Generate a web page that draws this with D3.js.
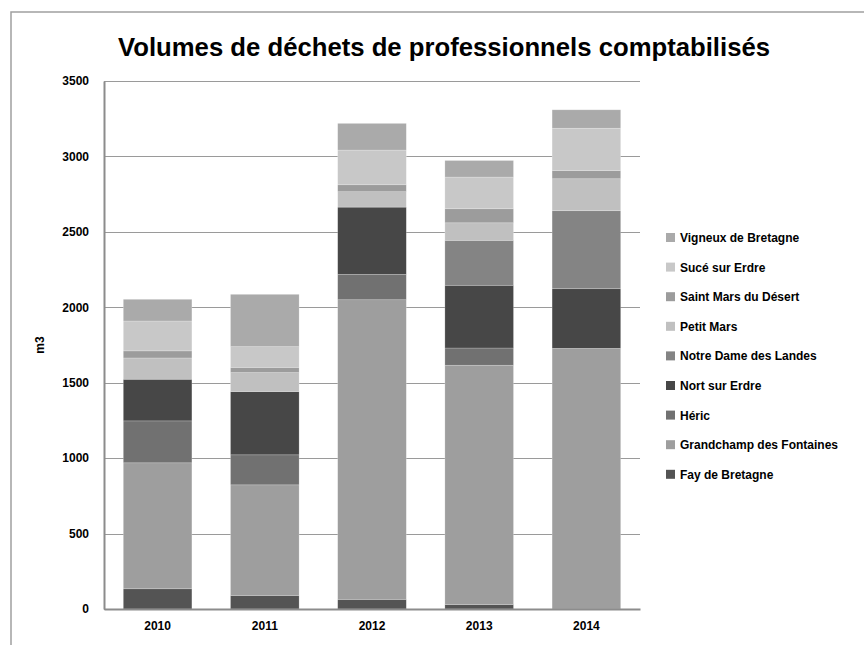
<!DOCTYPE html>
<html>
<head>
<meta charset="utf-8">
<script src="https://cdn.jsdelivr.net/npm/d3@7"></script>
<style>
  body { margin: 0; background: #fff; }
  svg text { font-family: "Liberation Sans", Arial, sans-serif; fill: #000; }
</style>
</head>
<body>
<svg id="chart"></svg>
<script>
// years on the x axis
const years = ['2010', '2011', '2012', '2013', '2014'];

// communes, bottom of the stack first
const communes = [
  'Fay de Bretagne', 'Grandchamp des Fontaines', 'Héric', 'Nort sur Erdre',
  'Notre Dame des Landes', 'Petit Mars', 'Saint Mars du Désert', 'Sucé sur Erdre',
  'Vigneux de Bretagne'
];

// volumes (m3) per commune, one value per year
const fay        = [134, 90, 64, 30, 0];
const grandchamp = [835, 733, 1986, 1586, 1728];
const heric      = [278, 199, 168, 114, 0];
const nort       = [276, 419, 446, 416, 395];
const notreDame  = [0, 0, 0, 298, 517];
const petitMars  = [141, 126, 102, 116, 212];
const saintMars  = [47, 35, 46, 93, 55];
const suce       = [198, 137, 230, 210, 280];
const vigneux    = [144, 347, 177, 110, 122];

const yTicks = [0, 500, 1000, 1500, 2000, 2500, 3000, 3500];

const greys = ['#545454', '#9e9e9e', '#717171', '#474747', '#848484',
               '#c0c0c0', '#9c9c9c', '#c8c8c8', '#aaaaaa'];

const seriesValues = [fay, grandchamp, heric, nort, notreDame, petitMars, saintMars, suce, vigneux];
const table = years.map((y, i) => {
  const row = {year: y};
  communes.forEach((c, j) => row[c] = seriesValues[j][i]);
  return row;
});

const width = 864, height = 645;
const margin = {top: 81, left: 104, right: 224, bottom: 36};

const svg = d3.select('#chart')
    .attr('width', width)
    .attr('height', height);

// outer frame (only top and left are visible in the picture)
svg.append('path')
    .attr('d', `M11,${height} V12 H${width}`)
    .attr('fill', 'none')
    .attr('stroke', '#a0a0a0')
    .attr('stroke-width', 1.5);

const innerW = width - margin.left - margin.right;
const innerH = height - margin.top - margin.bottom;

const chart = svg.append('g')
    .attr('transform', `translate(${margin.left},${margin.top})`);

const xScale = d3.scaleBand()
    .domain(years)
    .range([0, innerW])
    .paddingInner(0.36)
    .paddingOuter(0.18);

const yScale = d3.scaleLinear()
    .domain([0, 3500])
    .range([innerH, 0]);

// gridlines
chart.append('g')
  .selectAll('line')
  .data(yTicks)
  .join('line')
    .attr('x1', 0)
    .attr('x2', innerW)
    .attr('y1', d => Math.round(yScale(d)) + 0.5)
    .attr('y2', d => Math.round(yScale(d)) + 0.5)
    .attr('stroke', '#9a9a9a')
    .attr('stroke-width', 1.2);

const stack = d3.stack().keys(communes);
const layers = stack(table);

chart.append('g')
  .selectAll('g')
  .data(layers)
  .join('g')
    .attr('fill', (d, i) => greys[i])
  .selectAll('rect')
  .data(d => d)
  .join('rect')
    .attr('x', d => xScale(d.data.year))
    .attr('width', xScale.bandwidth())
    .attr('y', d => yScale(d[1]))
    .attr('height', d => yScale(d[0]) - yScale(d[1]))
    .attr('stroke', 'rgba(255,255,255,0.35)')
    .attr('stroke-width', 0.6);

// axes
const yAxis = d3.axisLeft(yScale).tickValues(yTicks).tickFormat(d3.format('d')).tickSize(0).tickPadding(15);
const yAxisG = chart.append('g').call(yAxis);
yAxisG.select('.domain').attr('stroke', '#8c8c8c').attr('stroke-width', 2);
yAxisG.selectAll('text')
    .style('font-size', '12px')
    .style('font-weight', 'bold')
    .attr('fill', '#000');

const xAxis = d3.axisBottom(xScale).tickSize(0).tickPadding(12);
const xAxisG = chart.append('g')
    .attr('transform', `translate(0,${innerH})`)
    .call(xAxis);
xAxisG.select('.domain').attr('stroke', '#8c8c8c').attr('stroke-width', 2);
xAxisG.selectAll('text')
    .style('font-size', '12px')
    .style('font-weight', 'bold')
    .attr('fill', '#000');

// axis title
svg.append('text')
    .attr('transform', `translate(44,${margin.top + innerH / 2}) rotate(-90)`)
    .attr('text-anchor', 'middle')
    .style('font-size', '12px')
    .style('font-weight', 'bold')
    .text('m3');

// title
svg.append('text')
    .attr('x', 444)
    .attr('y', 56)
    .attr('text-anchor', 'middle')
    .style('font-family', '"Liberation Sans Narrow", "Liberation Sans", sans-serif')
    .style('font-size', '26px')
    .style('font-weight', 'bold')
    .attr('textLength', 652)
    .attr('lengthAdjust', 'spacingAndGlyphs')
    .text('Volumes de déchets de professionnels comptabilisés');

// legend, top entry is the last series
const legend = svg.append('g')
    .attr('transform', 'translate(666,233)');

const legendItems = legend.selectAll('g')
  .data(communes.slice().reverse())
  .join('g')
    .attr('transform', (d, i) => `translate(0,${i * 29.6})`);

legendItems.append('rect')
    .attr('width', 9)
    .attr('height', 9)
    .attr('fill', d => greys[communes.indexOf(d)]);

legendItems.append('text')
    .attr('x', 14)
    .attr('y', 9)
    .style('font-size', '12px')
    .style('font-weight', 'bold')
    .text(d => d);
</script>
</body>
</html>
